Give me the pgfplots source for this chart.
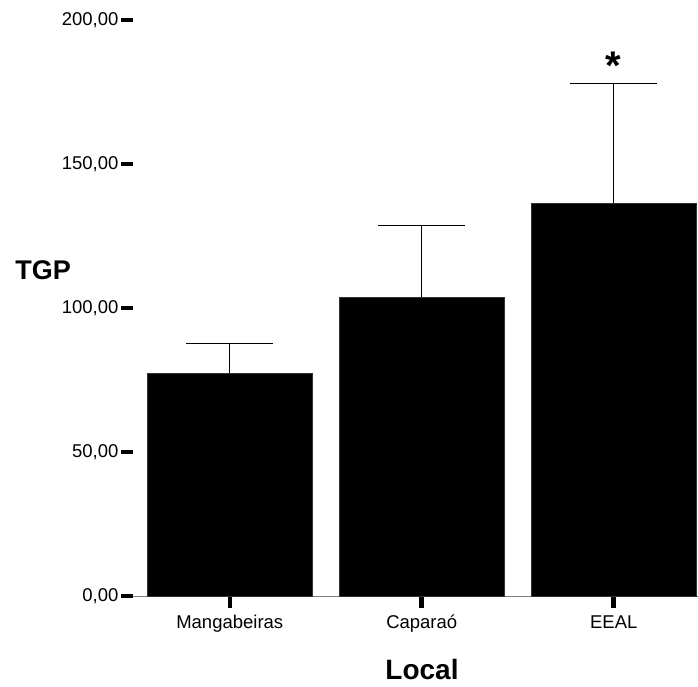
\documentclass[border=0pt]{standalone}
\usepackage{pgfplots}
\pgfplotsset{compat=1.18}
\usepackage{fontspec}
\setmainfont{Liberation Sans}
\begin{document}
\begin{tikzpicture}
\begin{axis}[
  scale only axis,
  width=565pt, height=576pt,
  xmin=-0.504, xmax=2.439,
  ymin=0, ymax=200,
  axis lines*=left,
  y axis line style={draw=none},
  x axis line style={draw=gray, line width=0.8pt},
  xtick={0,1,2},
  xticklabels={Mangabeiras,Caparaó,EEAL},
  ytick={0,50,100,150,200},
  tick align=outside,
  major tick length=12pt,
  tick style={black, line width=4.5pt},
  /pgf/number format/assume math mode=true,
  yticklabel={\pgfmathprintnumber[fixed,fixed zerofill,precision=2,use comma]{\tick}},
  ticklabel style={font=\fontsize{18.5}{18.5}\selectfont},
  yticklabel style={xshift=1pt},
  xticklabel style={yshift=-3pt, text height=13.5pt, text depth=4pt},
  xlabel={Local},
  ylabel={TGP},
  xlabel style={font=\bfseries\fontsize{28}{28}\selectfont, at={(axis description cs:0.5115,-0.127)}, anchor=center},
  ylabel style={font=\bfseries\fontsize{27}{27}\selectfont, rotate=-90, at={(axis description cs:-0.159,0.566)}, anchor=center},
  clip=false,
]
\addplot[ybar, bar width=0.859, fill=black, draw=black!80, line width=0.5pt,
  error bars/.cd, y dir=plus, y explicit,
  error bar style={black, line width=0.8pt},
  error mark options={black, line width=0.8pt, mark size=43.5pt, rotate=90}]
  coordinates {(0,77.3) +- (0,10.3) (1,103.7) +- (0,25.0) (2,136.4) +- (0,41.6)};
\node[font=\bfseries\fontsize{40}{40}\selectfont, inner sep=0pt] at (axis cs:2,184) {*};
\end{axis}
\pgfresetboundingbox
\path[use as bounding box] (-133pt,-90pt) rectangle (565pt,596pt);
\end{tikzpicture}
\end{document}
